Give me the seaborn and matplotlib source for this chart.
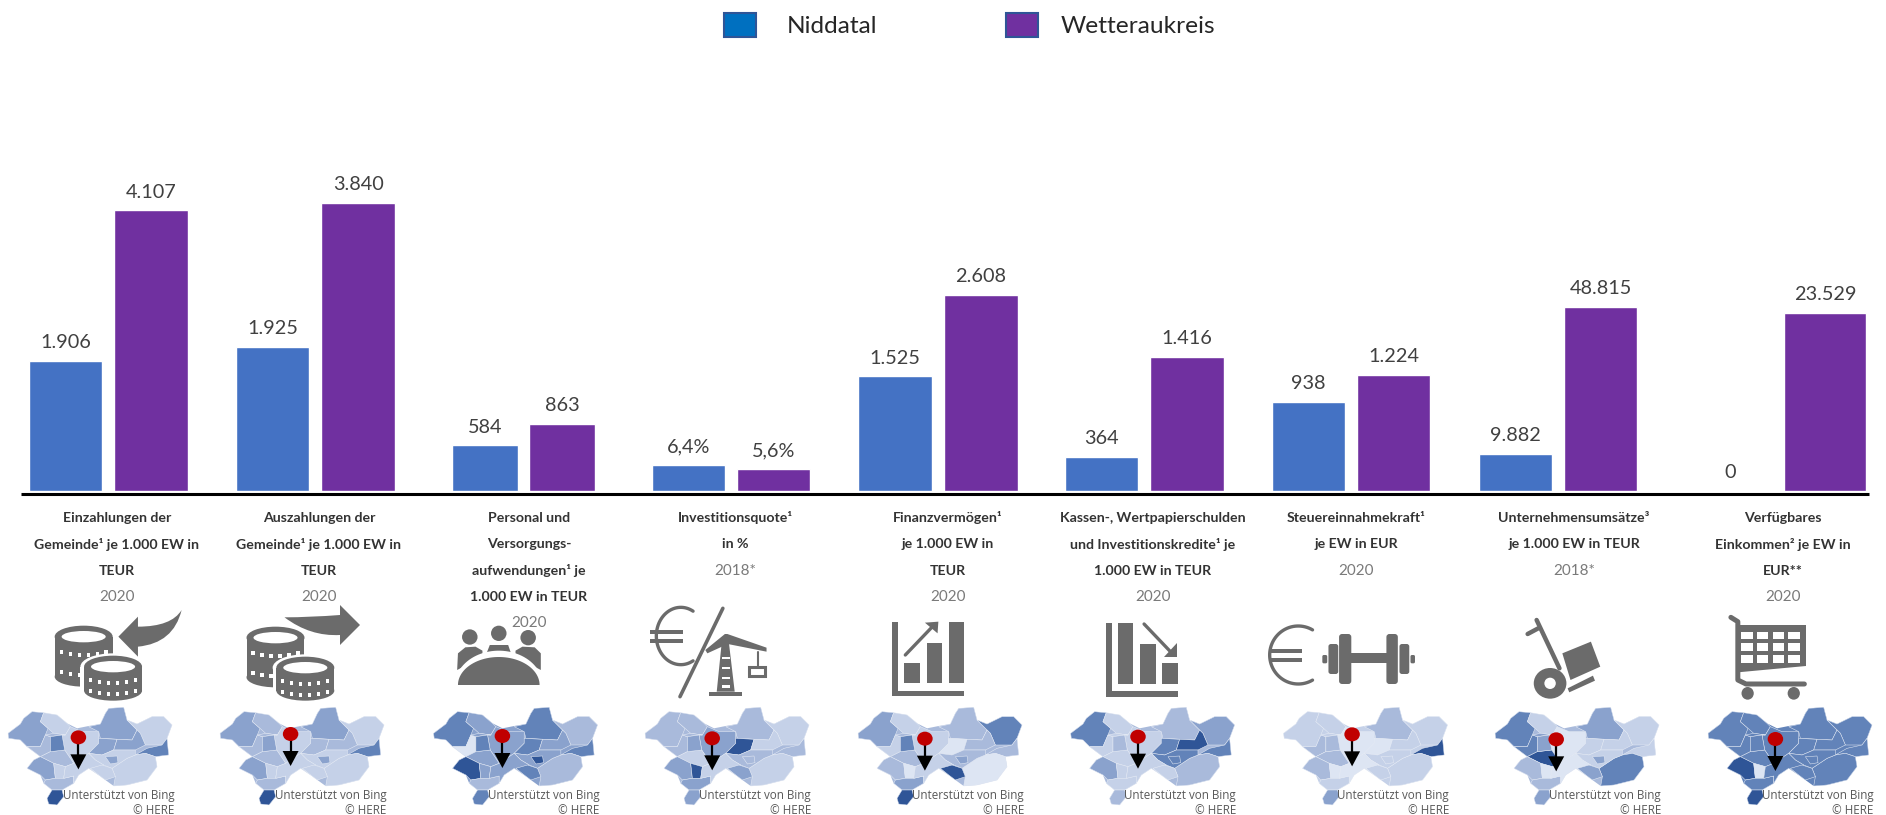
import numpy as np
import pandas as pd
import matplotlib
matplotlib.use("Agg")
import matplotlib.pyplot as plt
from matplotlib.patches import Polygon, Ellipse, PathPatch, FancyBboxPatch, Patch
from matplotlib.path import Path
import seaborn as sns

# Kennzahlen und Werte
kennzahlen = ["Einzahlungen", "Auszahlungen", "Personal", "Investitionsquote", "Finanzvermoegen",
              "Schulden", "Steuerkraft", "Umsaetze", "Einkommen"]
niddatal = [1906, 1925, 584, 6.4, 1525, 364, 938, 9882, 0]
wetteraukreis = [4107, 3840, 863, 5.6, 2608, 1416, 1224, 48815, 23529]
achsen_max = [5724, 5212, 5000, 97.8, 5200, 4133, 4125, 103700, 51690]
titel = [
    ["Einzahlungen der", "Gemeinde¹ je 1.000 EW in", "TEUR"],
    ["Auszahlungen der", "Gemeinde¹ je 1.000 EW in", "TEUR"],
    ["Personal und", "Versorgungs-", "aufwendungen¹ je", "1.000 EW in TEUR"],
    ["Investitionsquote¹", "in %"],
    ["Finanzvermögen¹", "je 1.000 EW in", "TEUR"],
    ["Kassen-, Wertpapierschulden", "und Investitionskredite¹ je", "1.000 EW in TEUR"],
    ["Steuereinnahmekraft¹", "je EW in EUR"],
    ["Unternehmensumsätze³", "je 1.000 EW in TEUR"],
    ["Verfügbares", "Einkommen² je EW in", "EUR**"],
]
jahre = ["2020", "2020", "2020", "2018*", "2020", "2020", "2020", "2018*", "2020"]

BLAU, LILA, GRAU = "#4472c4", "#7030a0", "#6b6b6b"
W, H = 1886, 815

sns.set_theme(style="white")
plt.rcParams["font.family"] = ["Lato", "DejaVu Sans"]
fig = plt.figure(figsize=(W / 100, H / 100), dpi=100)

df = pd.DataFrame({
    "kennzahl": kennzahlen * 2,
    "gebiet": ["Niddatal"] * 9 + ["Wetteraukreis"] * 9,
    "wert": niddatal + wetteraukreis,
})


def zahl(v, kz):
    if kz == "Investitionsquote":
        return f"{v:.1f}%".replace(".", ",")
    return f"{v:,.0f}".replace(",", ".")


# Jede Kennzahl hat ihre eigene Skala und damit eigene Achsen
gruppen_mitte = [108.3, 315.3, 523.5, 731, 937.6, 1144.3, 1351, 1558, 1777.5]
gruppen_breite = [171, 171, 154, 170, 172, 171, 170, 170, 190]
achse_oben, achse_unten = 100, 491
for i, kz in enumerate(kennzahlen):
    ax = fig.add_axes([(gruppen_mitte[i] - gruppen_breite[i] / 2) / W, 1 - achse_unten / H,
                       gruppen_breite[i] / W, (achse_unten - achse_oben) / H])
    sns.barplot(data=df[df.kennzahl == kz], x="kennzahl", y="wert", hue="gebiet",
                hue_order=["Niddatal", "Wetteraukreis"], palette=[BLAU, LILA], saturation=1,
                width=1, gap=0.14, legend=False, ax=ax)
    ax.set_xlim(-0.5, 0.5)
    ax.set_ylim(0, achsen_max[i])
    ax.axis("off")
    for cont in ax.containers:
        ax.bar_label(cont, labels=[zahl(b.get_height(), kz) for b in cont],
                     padding=7, fontsize=14.3, color="#404040")

# Legende: zwei Einträge mit eigenem Abstand zwischen Feld und Text
fig.legend(handles=[Patch(facecolor="#0070c0", edgecolor="#2f5597", lw=1.5, label="Niddatal")],
           frameon=False, loc="upper left", bbox_to_anchor=(724 / W, 1 - 13 / H),
           fontsize=17.6, labelcolor="#262626", handlelength=1.3, handleheight=1.15,
           handletextpad=1.25, borderpad=0, borderaxespad=0)
fig.legend(handles=[Patch(facecolor=LILA, edgecolor="#2f5597", lw=1.5, label="Wetteraukreis")],
           frameon=False, loc="upper left", bbox_to_anchor=(1006 / W, 1 - 13 / H),
           fontsize=17.6, labelcolor="#262626", handlelength=1.3, handleheight=1.15,
           handletextpad=0.95, borderpad=0, borderaxespad=0)

# Zeichenebene in Pixelkoordinaten für Grundlinie, Beschriftung und Symbole
ov = fig.add_axes([0, 0, 1, 1], zorder=5)
ov.set_xlim(0, W)
ov.set_ylim(H, 0)
ov.axis("off")
ov.plot([21, 1869], [493.5, 493.5], color="black", lw=2.2, solid_capstyle="butt")

SX, SY = 2.45, 3.0


def pt(x0, pts):
    return [(x0 + x / SX, 480 + y / SY) for x, y in pts]


def poly(x0, pts, c=GRAU, z=6):
    ov.add_patch(Polygon(pt(x0, pts), closed=True, fc=c, ec="none", zorder=z))


def rect(x0, x1, y1, x2, y2, c=GRAU, z=6):
    poly(x0, [(x1, y1), (x2, y1), (x2, y2), (x1, y2)], c, z)


def ell(x0, cx, cy, w, h, c=GRAU, z=6):
    (px, py), = pt(x0, [(cx, cy)])
    ov.add_patch(Ellipse((px, py), w / SX, h / SY, fc=c, ec="none", zorder=z))


def linie(x0, pts, lw=2.2, c=GRAU, z=6):
    xy = np.array(pt(x0, pts))
    ov.plot(xy[:, 0], xy[:, 1], color=c, lw=lw, solid_capstyle="round", zorder=z)


def rund(x0, x1, y1, x2, y2, r=3, z=6):
    (a, b), (c, d) = pt(x0, [(x1, y1), (x2, y2)])
    ov.add_patch(FancyBboxPatch((a + r, b + r), c - a - 2 * r, d - b - 2 * r,
                                boxstyle=f"round,pad={r}", fc=GRAU, ec="none", zorder=z))


def kurve(x0, verts, codes, z=6):
    ov.add_patch(PathPatch(Path(pt(x0, verts), codes), fc=GRAU, ec="none", zorder=z))


def muenzen(x0, cx, top, bottom, reihen, halo=False):
    if halo:
        ell(x0, cx, top + 33, 160, 80, "white")
        rect(x0, cx - 80, top + 33, cx + 80, bottom - 30, "white")
        ell(x0, cx, bottom - 30, 160, 76, "white")
    ell(x0, cx, top + 33, 142, 66)
    rect(x0, cx - 71, top + 33, cx + 71, bottom - 30)
    ell(x0, cx, bottom - 30, 142, 60)
    ell(x0, cx, top + 33, 108, 34, "white")
    for r in reihen:
        for dx in np.linspace(-55, 55, 6):
            y = top + r + 10 * (1 - (dx / 60) ** 2)
            rect(x0, cx + dx - 4, y - 6, cx + dx + 4, y + 6, "white")


def euro(x0, cx, cy, rx, ry, bar_l, bar_r, bar1, bar2):
    t = np.radians(np.linspace(60, 300, 60))
    linie(x0, list(zip(cx + rx * np.cos(t), cy - ry * np.sin(t))), lw=2.4)
    rect(x0, bar_l, bar1, bar_r, bar1 + 12)
    rect(x0, bar_l, bar2, bar_r, bar2 + 12)


M, L, C3, CL = Path.MOVETO, Path.LINETO, Path.CURVE3, Path.CLOSEPOLY

# Münzen mit Pfeil hinein
muenzen(0, 205, 437, 620, [78, 138])
muenzen(0, 277, 527, 662, [72, 105], halo=True)
kurve(0, [(290, 470), (338, 410), (338, 440), (420, 440), (445, 390), (425, 490), (338, 500),
          (338, 530), (290, 470)], [M, L, L, C3, C3, C3, C3, L, CL])
# Münzen mit Pfeil hinaus
muenzen(0, 675, 440, 622, [78, 138])
muenzen(0, 748, 530, 662, [72, 105], halo=True)
kurve(0, [(882, 435), (833, 495), (833, 465), (760, 470), (697, 412), (760, 412), (833, 405),
          (833, 375), (882, 435)], [M, L, L, C3, C3, C3, C3, L, CL])

# Personen am Tisch
for cx, cy in [(1151, 471), (1222, 460), (1294, 473)]:
    ell(0, cx, cy, 38, 46)
poly(0, [(1120, 570), (1122, 520), (1140, 502), (1165, 500), (1182, 512), (1182, 530)])
poly(0, [(1192, 520), (1200, 495), (1245, 495), (1252, 520)])
poly(0, [(1263, 530), (1263, 512), (1280, 500), (1310, 502), (1325, 520), (1325, 570)])
th = np.linspace(0, np.pi, 50)
poly(0, list(zip(1222 + 108 * np.cos(th), 618 - 106 * np.sin(th))), "white")
poly(0, list(zip(1222 + 100 * np.cos(th), 615 - 84 * np.sin(th))))

# Euro und Baukran
euro(640, 100, 468, 60, 86, 25, 105, 450, 478)
linie(640, [(203, 385), (98, 650)], lw=2.6)
poly(640, [(160, 510), (208, 462), (214, 462), (310, 503), (310, 515), (215, 492), (165, 520)])
poly(640, [(200, 490), (218, 490), (232, 635), (188, 635)])
for y in [530, 560, 590, 615]:
    rect(640, 200, y, 220, y + 8, "white")
rect(640, 170, 635, 250, 648)
linie(640, [(288, 515), (288, 560)], lw=1.5)
ov.add_patch(Polygon(pt(640, [(266, 561), (307, 561), (307, 589), (266, 589)]), closed=True,
                     fc="white", ec=GRAU, lw=2.2, zorder=6))

# Balkendiagramm steigend
rect(640, 617, 425, 633, 648)
rect(640, 617, 632, 795, 648)
rect(640, 648, 548, 687, 610)
rect(640, 702, 490, 741, 610)
rect(640, 757, 425, 795, 610)
linie(640, [(650, 525), (718, 438)], lw=2.4)
poly(640, [(698, 428), (731, 425), (729, 460)])

# Balkendiagramm fallend
rect(640, 1141, 430, 1157, 650)
rect(640, 1141, 632, 1317, 650)
rect(640, 1171, 430, 1209, 612)
rect(640, 1226, 492, 1263, 612)
rect(640, 1280, 550, 1317, 612)
linie(640, [(1235, 432), (1302, 518)], lw=2.4)
poly(640, [(1315, 490), (1315, 532), (1283, 532)])

# Euro und Hantel
euro(1246, 128, 525, 70, 87, 60, 138, 507, 535)
rect(1246, 245, 520, 350, 550)
rund(1246, 228, 462, 258, 612)
rund(1246, 344, 462, 372, 612)
rund(1246, 202, 492, 226, 582, r=2.5)
rund(1246, 376, 492, 400, 582, r=2.5)
rund(1246, 187, 525, 199, 550, r=1.5)
rund(1246, 403, 525, 414, 550, r=1.5)

# Sackkarre
linie(1246, [(690, 462), (716, 445)], lw=3.2)
linie(1246, [(712, 420), (768, 565)], lw=3.2)
poly(1246, [(775, 520), (845, 485), (868, 560), (795, 600)])
ell(1246, 745, 610, 80, 92)
ell(1246, 745, 610, 28, 34, "white")
poly(1246, [(788, 625), (850, 587), (855, 602), (792, 637)])

# Einkaufswagen
linie(1246, [(1188, 412), (1205, 425), (1205, 600), (1225, 612), (1368, 612)], lw=3.6)
poly(1246, [(1205, 435), (1372, 435), (1372, 558), (1205, 577)])
for a, b in [(1213, 1241), (1252, 1280), (1290, 1318), (1328, 1358)]:
    for c, d in [(456, 476), (490, 512), (525, 548)]:
        rect(1246, a, c, b, d, "white")
ell(1246, 1229, 640, 30, 38)
ell(1246, 1342, 640, 30, 38)

# Gemeindekarte: gemeinsame Gebiete, Einfärbung je Kennzahl
umriss = [(28, 100), (65, 72), (75, 55), (100, 35), (130, 38), (175, 45), (205, 70), (235, 85), (270, 78), (305, 72),
          (320, 40), (330, 25), (375, 22), (385, 60), (415, 72), (460, 50), (495, 50), (520, 75), (505, 115),
          (510, 165), (470, 170), (475, 200), (445, 240), (385, 255), (345, 258), (320, 240), (300, 225), (270, 205),
          (240, 225), (225, 250), (190, 270), (195, 290), (175, 315), (150, 312), (145, 295), (160, 270), (135, 250),
          (125, 225), (85, 205), (105, 180), (125, 170), (85, 140), (65, 120), (30, 115)]
gebiete = [
    [(28, 100), (65, 72), (75, 55), (100, 35), (135, 38), (125, 65), (148, 85), (140, 105), (125, 140), (85, 140),
     (65, 120), (30, 115)],
    [(135, 38), (175, 45), (205, 70), (215, 80), (200, 105), (165, 100), (148, 85), (125, 65)],
    [(85, 140), (125, 140), (140, 105), (155, 110), (155, 155), (125, 170)],
    [(200, 105), (215, 80), (250, 95), (300, 95), (300, 130), (270, 160), (225, 190), (198, 150), (190, 105)],
    [(125, 170), (155, 155), (198, 150), (225, 190), (200, 200), (165, 190)],
    [(140, 105), (165, 100), (200, 105), (190, 105), (155, 110)],
    [(270, 80), (305, 72), (320, 40), (330, 25), (375, 22), (385, 60), (415, 90), (400, 120), (305, 115), (300, 95)],
    [(385, 60), (415, 72), (460, 50), (495, 50), (520, 75), (505, 115), (490, 135), (440, 135), (425, 100), (415, 90)],
    [(300, 115), (355, 118), (345, 150), (310, 165), (270, 160), (300, 130)],
    [(355, 118), (400, 120), (415, 90), (425, 100), (440, 135), (410, 150), (345, 150)],
    [(410, 165), (445, 145), (490, 135), (505, 115), (510, 165), (470, 170), (440, 160)],
    [(340, 205), (385, 175), (410, 165), (440, 160), (470, 170), (475, 200), (445, 240), (385, 255), (345, 258),
     (350, 230)],
    [(270, 160), (310, 165), (345, 150), (410, 150), (410, 165), (385, 175), (340, 205), (315, 195), (290, 180)],
    [(85, 205), (105, 180), (125, 170), (165, 190), (170, 235), (140, 240), (125, 225)],
    [(165, 190), (200, 200), (195, 235), (170, 235)],
    [(135, 250), (140, 240), (170, 235), (195, 235), (225, 228), (225, 250), (190, 270), (160, 270)],
    [(160, 270), (190, 270), (195, 290), (175, 315), (150, 312), (145, 295)],
    [(200, 200), (225, 190), (270, 160), (290, 180), (315, 195), (300, 225), (270, 205), (240, 225), (225, 250),
     (225, 228), (195, 235)],
    [(275, 205), (310, 195), (340, 205), (350, 230), (320, 240), (300, 225)],
    [(155, 110), (190, 105), (198, 150), (155, 155)],
    [(320, 170), (355, 168), (358, 188), (335, 192)],
]
blau_stufen = ["#dde5f3", "#c5d1e8", "#a9badb", "#8aa2cd", "#6283b9", "#2f5597"]
# Stufen in der Reihenfolge der Gebiete oben
faerbung = [
    [3, 1, 2, 1, 2, 2, 3, 1, 3, 3, 4, 1, 1, 3, 1, 2, 5, 1, 1, 4, 3],
    [3, 2, 2, 1, 2, 2, 3, 1, 2, 2, 4, 1, 1, 3, 1, 2, 5, 1, 1, 3, 3],
    [4, 3, 0, 3, 3, 3, 4, 2, 4, 3, 4, 2, 3, 5, 3, 2, 4, 3, 4, 4, 5],
    [2, 2, 2, 3, 1, 2, 2, 1, 5, 1, 2, 1, 2, 3, 5, 3, 3, 1, 3, 3, 2],
    [3, 1, 1, 1, 2, 2, 2, 4, 0, 2, 2, 0, 2, 2, 0, 3, 5, 1, 5, 4, 3],
    [4, 1, 1, 1, 1, 1, 2, 3, 4, 5, 4, 2, 4, 3, 1, 1, 2, 1, 1, 2, 4],
    [1, 1, 2, 0, 2, 1, 2, 1, 0, 1, 5, 1, 1, 2, 0, 1, 3, 0, 1, 2, 1],
    [4, 1, 4, 0, 5, 3, 3, 1, 1, 1, 1, 4, 1, 2, 0, 2, 3, 0, 3, 3, 3],
    [4, 4, 4, 4, 4, 4, 4, 4, 4, 4, 4, 4, 4, 5, 0, 4, 5, 4, 4, 4, 4],
]
karte_links = [8, 220, 433.5, 645, 858, 1070.6, 1283.5, 1495, 1708]
nadel_x = [78.4, 290.6, 502.4, 712.2, 924.9, 1138, 1352.1, 1556.2, 1775.4]
nadel_y = [772, 762, 768, 775, 776, 770, 763, 778, 777]
quelle_rechts = [174.7, 386.5, 599.2, 811, 1024, 1236, 1448.9, 1661, 1873.8]


def kpt(x0, pts):
    return [(x0 - 9.3 + u / 3, 700 + v / 3) for u, v in pts]


for i, x0 in enumerate(karte_links):
    ov.add_patch(Polygon(kpt(x0, umriss), closed=True, fc=blau_stufen[int(np.median(faerbung[i]))],
                         ec="none", zorder=5))
    for g, s in zip(gebiete, faerbung[i]):
        ov.add_patch(Polygon(kpt(x0, g), closed=True, fc=blau_stufen[s], ec="#e8edf6", lw=0.35, zorder=5))
    nx, ny = nadel_x[i], 480 + nadel_y[i] / SY
    ov.plot([nx, nx], [ny, ny + 20], color="black", lw=1.6, zorder=7)
    ov.add_patch(Polygon([(nx - 8, ny + 17), (nx + 8, ny + 17), (nx, ny + 32)], closed=True,
                         fc="black", ec="none", zorder=7))
    ov.add_patch(Ellipse((nx, ny), 15.5, 14, fc="#c00000", ec="none", zorder=8))
    ov.text(quelle_rechts[i], 795, "Unterstützt von Bing", ha="right", va="center", fontsize=8.4,
            color="#595959", family=["Open Sans", "DejaVu Sans"], zorder=9)
    ov.text(quelle_rechts[i], 810, "© HERE", ha="right", va="center", fontsize=8.4,
            color="#595959", family=["Open Sans", "DejaVu Sans"], zorder=9)

# Beschriftung unter den Balken
text_mitte = [117, 319, 529, 735, 948, 1153, 1356, 1574, 1783]
ZEILE0, ZEILENABSTAND = 518, 26.3
for i, zeilen in enumerate(titel):
    for k, z in enumerate(zeilen):
        ov.text(text_mitte[i], ZEILE0 + k * ZEILENABSTAND, z, ha="center", va="center", fontsize=10.2,
                fontweight="bold", color="#333333", family=["Lato", "DejaVu Sans"], zorder=9)
    ov.text(text_mitte[i], ZEILE0 + len(zeilen) * ZEILENABSTAND, jahre[i], ha="center", va="center",
            fontsize=11, color="#7a7a7a", family=["Lato", "DejaVu Sans"], zorder=9)

fig.savefig("out.png", dpi=100)
